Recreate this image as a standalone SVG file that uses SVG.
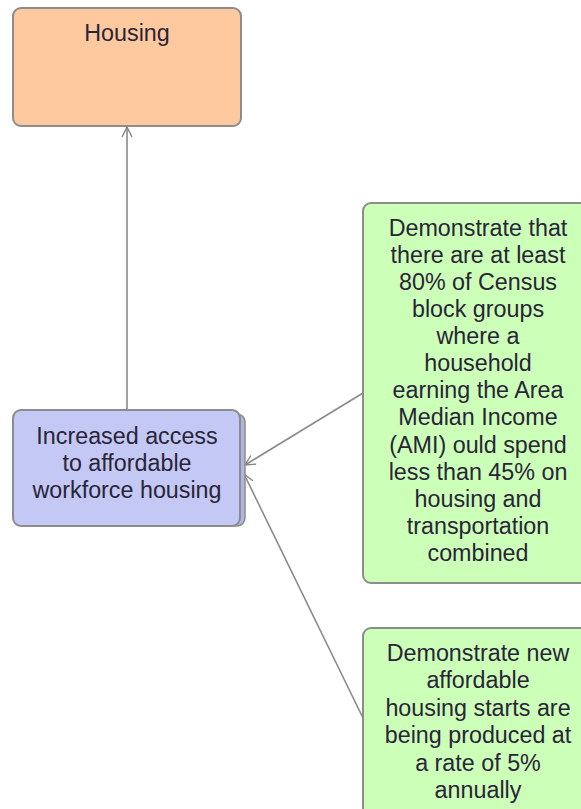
<svg xmlns="http://www.w3.org/2000/svg" width="581" height="809" viewBox="0 0 581 809">
<defs>
<marker id="arr" viewBox="0 0 12 12" refX="11" refY="6" markerWidth="12" markerHeight="12" markerUnits="userSpaceOnUse" orient="auto">
<path d="M1,1 L11,6 L1,11" fill="none" stroke="#808080" stroke-width="1.3"/>
</marker>
</defs>
<style>
text{font-family:"Liberation Sans",Arial,sans-serif;font-size:23.3px;fill:#2a2438;text-anchor:middle}
.box{stroke:#8c8c8c;stroke-width:2}
.conn{stroke:#8a8a8a;stroke-width:1.6;fill:none}
</style>
<rect width="581" height="809" fill="#ffffff"/>
<g id="connectors">
<line class="conn" x1="127" y1="409" x2="127" y2="127" marker-end="url(#arr)"/>
<line class="conn" x1="363" y1="393" x2="245" y2="465" marker-end="url(#arr)"/>
<line class="conn" x1="363" y1="718" x2="244" y2="474" marker-end="url(#arr)"/>
</g>
<g id="housing">
<rect class="box" x="13" y="8" width="228" height="118" rx="8" fill="#FFC9A0"/>
<text x="127" y="41">Housing</text>
</g>
<g id="access">
<rect x="18" y="414" width="227" height="112" rx="8" fill="#B0B4E0" stroke="#8c8c8c" stroke-width="1.5"/>
<rect class="box" x="13" y="410" width="227" height="116" rx="8" fill="#C3C8F4"/>
<text x="127" y="444">Increased access</text>
<text x="127" y="471">to affordable</text>
<text x="127" y="498">workforce housing</text>
</g>
<g id="measure1">
<rect class="box" x="363" y="203" width="230" height="380" rx="8" fill="#CCFFB8"/>
<text x="478" y="236">Demonstrate that</text>
<text x="478" y="263">there are at least</text>
<text x="478" y="290">80% of Census</text>
<text x="478" y="317">block groups</text>
<text x="478" y="344">where a</text>
<text x="478" y="371">household</text>
<text x="478" y="398">earning the Area</text>
<text x="478" y="425">Median Income</text>
<text x="478" y="453">(AMI) ould spend</text>
<text x="478" y="480">less than 45% on</text>
<text x="478" y="507">housing and</text>
<text x="478" y="534">transportation</text>
<text x="478" y="561">combined</text>
</g>
<g id="measure2">
<rect class="box" x="363" y="628" width="230" height="200" rx="8" fill="#CCFFB8"/>
<text x="478" y="661">Demonstrate new</text>
<text x="478" y="688">affordable</text>
<text x="478" y="716">housing starts are</text>
<text x="478" y="743">being produced at</text>
<text x="478" y="771">a rate of 5%</text>
<text x="478" y="798">annually</text>
</g>
</svg>
